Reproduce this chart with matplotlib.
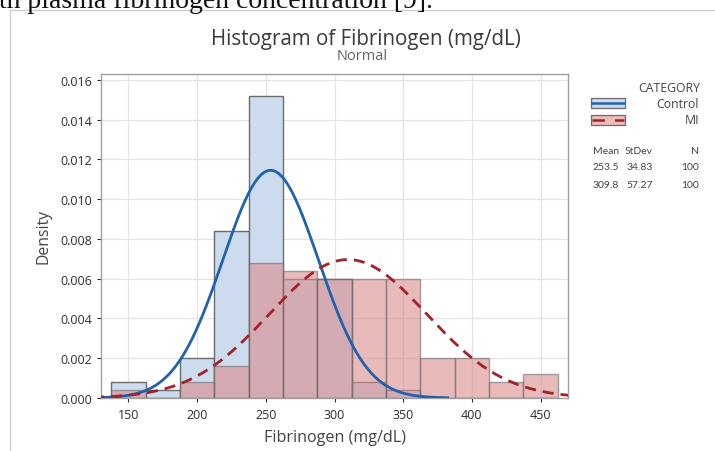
import numpy as np
import matplotlib
matplotlib.use("Agg")
import matplotlib.pyplot as plt
from matplotlib.patches import Rectangle
from matplotlib.lines import Line2D

# histogram bins (width 25, labelled by centre)
bin_centers = [150, 175, 200, 225, 250, 275, 300, 325, 350, 375, 400, 425, 450]
control_density = [0.0008, 0.0004, 0.0020, 0.0084, 0.0152, 0.0060, 0.0060, 0.0008, 0.0004, 0, 0, 0, 0]
mi_density = [0.0004, 0.0, 0.0008, 0.0016, 0.0068, 0.0064, 0.0060, 0.0060, 0.0060, 0.0020, 0.0020, 0.0008, 0.0012]
BIN_W = 25

groups = ["Control", "MI"]
means = [253.5, 309.8]
stdevs = [34.83, 57.27]
counts = [100, 100]

x_ticks = [150, 200, 250, 300, 350, 400, 450]
y_ticks = [0.000, 0.002, 0.004, 0.006, 0.008, 0.010, 0.012, 0.014, 0.016]

BLUE_FILL = "#cddbef"
RED_FILL = "#d98c8c"
BLUE_LINE = "#1f62b0"
RED_LINE = "#a3222a"
EDGE = "#6b6b6b"
TXT = "#444444"

plt.rcParams["font.family"] = ["Open Sans", "DejaVu Sans"]

W, H = 715, 452
fig = plt.figure(figsize=(W / 100, H / 100), dpi=100)


def fx(px):
    return px / W


def fy(py):
    return 1 - py / H


ax = fig.add_axes([fx(101), fy(399), fx(568) - fx(101), fy(75) - fy(399)])

ax.bar(bin_centers, control_density, width=BIN_W, color=BLUE_FILL,
       edgecolor=EDGE, linewidth=1.0, zorder=2)
ax.bar(bin_centers, mi_density, width=BIN_W, color=RED_FILL, alpha=0.6,
       edgecolor=EDGE, linewidth=1.0, zorder=3)


def normal_pdf(x, m, s):
    return np.exp(-0.5 * ((x - m) / s) ** 2) / (s * np.sqrt(2 * np.pi))


xs = np.linspace(means[0] - 3.7 * stdevs[0], means[0] + 3.7 * stdevs[0], 300)
ax.plot(xs, normal_pdf(xs, means[0], stdevs[0]), color=BLUE_LINE, lw=2.0, zorder=4)
xs = np.linspace(means[1] - 3.7 * stdevs[1], means[1] + 3.7 * stdevs[1], 300)
ax.plot(xs, normal_pdf(xs, means[1], stdevs[1]), color=RED_LINE, lw=2.0,
        dashes=(4, 2.5), zorder=4)

ax.set_xlim(130, 470)
ax.set_ylim(0, 0.0163)
ax.set_xticks(x_ticks)
ax.set_yticks(y_ticks)
ax.set_yticklabels([f"{v:.3f}" for v in y_ticks])
ax.grid(True, color="#e4e4e4", lw=0.9, zorder=0)
ax.set_axisbelow(True)
ax.tick_params(labelsize=9, colors="#2e2e2e", length=3, width=0.8)
ax.tick_params(axis="x", pad=4)
for sp in ax.spines.values():
    sp.set_color("#a0a0a0")
    sp.set_linewidth(1.0)

ax.set_xlabel("Fibrinogen (mg/dL)", fontsize=11.6, color=TXT, labelpad=6)
ax.set_ylabel("Density", fontsize=11.3, color=TXT, labelpad=6)

# titles
fig.text(fx(366), fy(39), "Histogram of Fibrinogen (mg/dL)", ha="center", va="center",
         fontsize=14.8, color="#3a3a3a")
fig.text(fx(362), fy(57), "Normal", ha="center", va="center", fontsize=10.5, color="#666666")

# legend
FS_LEG = 8.8
FS_TAB = 7.5
TAB_FONT = ["Lato", "DejaVu Sans"]
fig.text(fx(700), fy(89), "CATEGORY", ha="right", va="center", fontsize=FS_LEG, color=TXT)
leg_y = [104, 121]
line_col = [BLUE_LINE, RED_LINE]
fill_col = [BLUE_FILL, "#ebbcbc"]
for i, g in enumerate(groups):
    y0 = leg_y[i]
    fig.add_artist(Rectangle((fx(591), fy(y0 + 5)), fx(625) - fx(591), fy(y0 - 5) - fy(y0 + 5),
                             transform=fig.transFigure, facecolor=fill_col[i],
                             edgecolor=EDGE, lw=0.9))
    ln = Line2D([fx(592), fx(624)], [fy(y0), fy(y0)], transform=fig.transFigure,
                color=line_col[i], lw=1.8)
    if i == 1:
        ln.set_dashes((5, 4))
    fig.add_artist(ln)
    fig.text(fx(699), fy(y0), g, ha="right", va="center", fontsize=FS_LEG, color=TXT)

col_right = [619, 653, 699]
headers = ["Mean", "StDev", "N"]
for c, hd in enumerate(headers):
    fig.text(fx(col_right[c]), fy(151), hd, ha="right", va="center", fontsize=FS_TAB,
             color=TXT, family=TAB_FONT)
for i in range(len(groups)):
    yy = 168 + 17 * i
    vals = [f"{means[i]:.1f}", f"{stdevs[i]:.2f}", f"{counts[i]}"]
    for c, v in enumerate(vals):
        fig.text(fx(col_right[c]), fy(yy), v, ha="right", va="center", fontsize=FS_TAB,
                 color=TXT, family=TAB_FONT)

# page frame and cut-off text line from the document
fig.add_artist(Line2D([fx(10), fx(715)], [fy(11), fy(11)], transform=fig.transFigure,
                      color="#d0d0d0", lw=1.0))
fig.add_artist(Line2D([fx(10), fx(10)], [fy(11), fy(452)], transform=fig.transFigure,
                      color="#d0d0d0", lw=1.0))
fig.text(fx(-1), fy(8), "th plasma fibrinogen concentration [9].", ha="left", va="baseline",
         fontsize=20, family=["Liberation Serif", "DejaVu Serif"], color="#111111")

fig.savefig("out.png", dpi=100)
